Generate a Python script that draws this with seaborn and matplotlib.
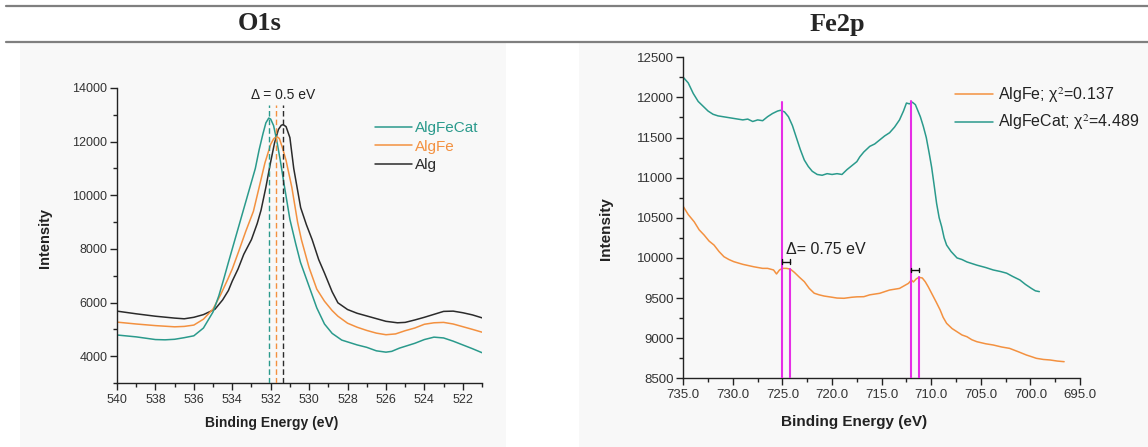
import numpy as np
import pandas as pd
import matplotlib
matplotlib.use("Agg")
import matplotlib.pyplot as plt
from matplotlib.ticker import MultipleLocator, FormatStrFormatter
from matplotlib.patches import Rectangle
from matplotlib.lines import Line2D
import seaborn as sns

# ---------------- data: O1s ----------------
o1s_cat_x = [540, 539, 538, 537.5, 537, 536.5, 536, 535.5, 535, 534.7, 534.45, 534.2, 534.0, 533.7, 533.4,
             533.1, 532.8, 532.6, 532.4, 532.25, 532.1, 532.0, 531.85, 531.7, 531.5, 531.3, 531.0, 530.7,
             530.45, 530.0, 529.6, 529.2, 528.8, 528.3, 527.5, 527, 526.5, 526, 525.7, 525.3, 524.5, 524,
             523.5, 523, 522.5, 522, 521.5, 521]
o1s_cat_y = [4790, 4720, 4620, 4610, 4630, 4690, 4760, 5050, 5650, 6250, 6860, 7500, 8000, 8750, 9500,
             10250, 11000, 11700, 12300, 12700, 12880, 12840, 12600, 12100, 11300, 10400, 9100, 8200,
             7500, 6600, 5800, 5200, 4850, 4600, 4420, 4330, 4200, 4150, 4180, 4300, 4480, 4620,
             4710, 4680, 4560, 4420, 4280, 4130]

o1s_fe_x = [540, 539, 538, 537, 536.5, 536, 535.5, 535, 534.6, 534.24, 534, 533.67, 533.3, 532.9, 532.6,
            532.3, 532.0, 531.85, 531.7, 531.55, 531.4, 531.2, 530.9, 530.6, 530.4, 530.0, 529.6, 529.2,
            528.8, 528.5, 528.0, 527.5, 527, 526.5, 526, 525.5, 525, 524.5, 524, 523.5, 523, 522.5, 522,
            521.5, 521]
o1s_fe_y = [5270, 5200, 5140, 5095, 5110, 5160, 5380, 5760, 6300, 6858, 7250, 7900, 8650, 9400, 10300,
            11205, 11900, 12100, 12200, 12120, 11800, 11300, 10300, 9000, 8342, 7300, 6500, 6050,
            5700, 5490, 5230, 5080, 4960, 4860, 4800, 4830, 4950, 5050, 5190, 5245, 5260, 5200, 5100,
            5000, 4895]

o1s_alg_x = [540, 539, 538, 537, 536.5, 536, 535.5, 534.9, 534.5, 534.2, 534.0, 533.7, 533.4, 533.0,
             532.7, 532.5, 532.25, 532.0, 531.8, 531.6, 531.45, 531.35, 531.2, 531.0, 530.8, 530.44,
             530.14, 529.84, 529.5, 529.2, 528.8, 528.5, 528.0, 527.5, 527, 526.5, 526, 525.4, 525,
             524.5, 524, 523.5, 523, 522.5, 522, 521.5, 521]
o1s_alg_y = [5680, 5580, 5490, 5420, 5394, 5450, 5550, 5750, 6100, 6450, 6800, 7250, 7800, 8350,
             8950, 9450, 10300, 11250, 11950, 12450, 12610, 12633, 12560, 12150, 11000, 9540,
             8900, 8342, 7600, 7100, 6400, 5990, 5740, 5600, 5500, 5400, 5300, 5245, 5260,
             5350, 5450, 5560, 5670, 5680, 5620, 5540, 5430]

o1s_peaks = [532.1, 531.7, 531.35]

# ---------------- data: Fe2p ----------------
fe_cat_x = [735.0, 734.5, 734.0, 733.5, 733.0, 732.5, 732.0, 731.5, 731.0, 730.5, 730.0, 729.5, 729.0,
            728.5, 728.0, 727.5, 727.0, 726.5, 726.0, 725.5, 725.2, 724.8, 724.4, 724.0, 723.6, 723.2,
            722.8, 722.4, 722.0, 721.5, 721.0, 720.5, 720.0, 719.5, 719.0, 718.5, 718.0, 717.5, 717.2,
            716.8, 716.2, 715.7, 715.2, 714.7, 714.2, 713.7, 713.2, 712.8, 712.5, 712.2, 711.9, 711.6,
            711.1, 710.8, 710.5, 710.2, 709.96, 709.7, 709.46, 709.2, 708.95, 708.7, 708.45, 708.0,
            707.4, 706.9, 706.4, 705.9, 705.4, 704.5, 703.75, 703.0, 702.4, 701.8, 701.06, 700.5,
            699.9, 699.5, 699.1]
fe_cat_y = [12250, 12180, 12050, 11950, 11890, 11830, 11790, 11770, 11760, 11750, 11740, 11730, 11720,
            11730, 11700, 11720, 11710, 11760, 11800, 11830, 11840, 11820, 11760, 11650, 11500, 11350,
            11220, 11140, 11080, 11040, 11030, 11050, 11040, 11050, 11040, 11100, 11150, 11200, 11260,
            11320, 11390, 11420, 11470, 11520, 11560, 11630, 11720, 11830, 11930, 11920, 11940, 11910,
            11760, 11640, 11500, 11300, 11130, 10900, 10680, 10500, 10390, 10250, 10160, 10080,
            10000, 9980, 9950, 9930, 9910, 9880, 9850, 9830, 9810, 9770, 9725, 9670,
            9620, 9590, 9580]

fe_fe_x = [735.0, 734.5, 733.9, 733.4, 732.9, 732.4, 731.9, 731.4, 730.9, 730.4, 729.9, 729.0, 727.9,
           727.0, 726.5, 725.9, 725.6, 725.3, 725.0, 724.6, 724.2, 723.8, 723.3, 722.8, 722.3, 721.8,
           721.3, 720.8, 720.0, 719.5, 718.8, 718.0, 717.5, 716.8, 716.2, 715.2, 714.2, 713.2, 712.3,
           712.0, 711.8, 711.5, 711.24, 710.9, 710.6, 710.3, 709.96, 709.5, 709.1, 708.8, 708.45,
           707.9, 707.4, 706.9, 706.4, 705.9, 705.4, 704.5, 703.75, 702.9, 702.1, 701.2, 700.4,
           699.9, 699.4, 698.7, 698.0, 697.3, 696.6]
fe_fe_y = [10640, 10540, 10450, 10350, 10285, 10210, 10160, 10080, 10015, 9980, 9953, 9920, 9890,
           9870, 9870, 9850, 9800, 9850, 9870, 9870, 9860, 9820, 9760, 9704, 9620, 9560,
           9540, 9525, 9510, 9500, 9497, 9510, 9515, 9517, 9540, 9559, 9600, 9620, 9683,
           9725, 9700, 9740, 9758, 9750, 9704, 9640, 9559, 9450, 9351, 9260, 9185,
           9120, 9080, 9040, 9018, 8980, 8956, 8930, 8915, 8890, 8873, 8830, 8790,
           8770, 8749, 8735, 8728, 8715, 8707]

fe_lines_hi = [725.0, 712.0]
fe_lines_lo = [724.25, 711.25]

TEAL = "#2a9a8c"
ORANGE = "#f39140"
BLACK = "#2b2b2b"
MAGENTA = "#e62ee6"

sns.set_style("ticks")
plt.rcParams["font.family"] = ["Liberation Sans", "DejaVu Sans"]
plt.rcParams["mathtext.fontset"] = "stix"
plt.rcParams["lines.solid_joinstyle"] = "round"

W, H = 1148, 447
fig = plt.figure(figsize=(W / 100, H / 100), dpi=100)
fig.patch.set_facecolor("white")

def fx(px):
    return px / W

def fy(py):
    return 1 - py / H

# panel backgrounds
fig.add_artist(Rectangle((fx(20), 0), fx(486), fy(42), transform=fig.transFigure,
                         facecolor="#f8f8f8", edgecolor="none", zorder=0))
fig.add_artist(Rectangle((fx(579), 0), fx(569), fy(42), transform=fig.transFigure,
                         facecolor="#f8f8f8", edgecolor="none", zorder=0))
# table rules
for yy in (6, 41.5):
    fig.add_artist(Line2D([fx(6), 1], [fy(yy), fy(yy)], transform=fig.transFigure,
                          color="#7f7f7f", lw=1.6, zorder=1))
fig.text(fx(260), fy(24), "O1s", ha="center", va="center", fontsize=19, fontweight="bold",
         family=["Liberation Serif", "DejaVu Serif"])
fig.text(fx(837), fy(24), "Fe2p", ha="center", va="center", fontsize=19, fontweight="bold",
         family=["Liberation Serif", "DejaVu Serif"])


def style_axes(ax, tick_fs_x, tick_fs_y):
    ax.set_facecolor("none")
    sns.despine(ax=ax, top=True, right=True)
    for s in ("left", "bottom"):
        ax.spines[s].set_linewidth(1.0)
        ax.spines[s].set_color("#222222")
    ax.tick_params(which="major", direction="out", length=5, width=1, colors="#222222")
    ax.tick_params(which="minor", direction="out", length=3, width=1, colors="#222222")
    ax.tick_params(axis="x", labelsize=tick_fs_x, labelcolor="#333333", pad=3)
    ax.tick_params(axis="y", labelsize=tick_fs_y, labelcolor="#333333", pad=2)


# ---------------- O1s ----------------
ax1 = fig.add_axes([fx(117), fy(383), fx(365), (383 - 88) / H])
sns.lineplot(x=o1s_alg_x, y=o1s_alg_y, ax=ax1, color=BLACK, lw=1.1, sort=False, estimator=None, label="Alg")
sns.lineplot(x=o1s_fe_x, y=o1s_fe_y, ax=ax1, color=ORANGE, lw=1.1, sort=False, estimator=None, label="AlgFe")
sns.lineplot(x=o1s_cat_x, y=o1s_cat_y, ax=ax1, color=TEAL, lw=1.1, sort=False, estimator=None, label="AlgFeCat")
ax1.set_xlim(540, 521)
ax1.set_ylim(3000, 14000)
ax1.xaxis.set_major_locator(MultipleLocator(2))
ax1.xaxis.set_minor_locator(MultipleLocator(1))
ax1.yaxis.set_major_locator(MultipleLocator(2000))
ax1.yaxis.set_minor_locator(MultipleLocator(1000))
style_axes(ax1, 9, 9)
for xp, c in zip(o1s_peaks, [TEAL, ORANGE, BLACK]):
    ax1.plot([xp, xp], [3000, 13380], color=c, lw=1.0, ls=(0, (4, 2.2)), zorder=3)
ax1.text(531.35, 13750, "Δ = 0.5 eV", ha="center", va="center", fontsize=10, color="#222222")
ax1.set_xlabel("Binding Energy (eV)", fontsize=10, fontweight="bold", color="#222222")
ax1.set_ylabel("Intensity", fontsize=10.5, fontweight="bold", color="#222222")
ax1.xaxis.label.set_va("center")
ax1.yaxis.label.set_va("center")
ax1.xaxis.set_label_coords(0.425, -0.136)
ax1.yaxis.set_label_coords(-0.197, 0.49)
h, l = ax1.get_legend_handles_labels()
order = [2, 1, 0]
leg1 = ax1.legend([h[i] for i in order], [l[i] for i in order], loc="upper left",
                  bbox_to_anchor=(fx(375), fy(121)), bbox_transform=fig.transFigure,
                  frameon=False, fontsize=11, handlelength=2.4, handletextpad=0.2,
                  labelspacing=0.3, borderpad=0, borderaxespad=0, labelcolor="linecolor")

# ---------------- Fe2p ----------------
ax2 = fig.add_axes([fx(683.3), fy(378.3), fx(396.7), (378.3 - 57.3) / H])
sns.lineplot(x=fe_fe_x, y=fe_fe_y, ax=ax2, color=ORANGE, lw=1.1, sort=False, estimator=None,
             label="AlgFe; χ$^{2}$=0.137")
sns.lineplot(x=fe_cat_x, y=fe_cat_y, ax=ax2, color=TEAL, lw=1.1, sort=False, estimator=None,
             label="AlgFeCat; χ$^{2}$=4.489")
ax2.set_xlim(735, 695)
ax2.set_ylim(8500, 12500)
ax2.xaxis.set_major_locator(MultipleLocator(5))
ax2.xaxis.set_minor_locator(MultipleLocator(2.5))
ax2.xaxis.set_major_formatter(FormatStrFormatter("%.1f"))
ax2.yaxis.set_major_locator(MultipleLocator(500))
ax2.yaxis.set_minor_locator(MultipleLocator(250))
style_axes(ax2, 9.5, 9.5)
for xp, top in zip(fe_lines_hi, [11940, 11950]):
    ax2.plot([xp, xp], [8500, top], color=MAGENTA, lw=1.5, zorder=4)
for xp, top in zip(fe_lines_lo, [9860, 9760]):
    ax2.plot([xp, xp], [8500, top], color=MAGENTA, lw=1.5, zorder=4)
for x0, x1, yb in zip(fe_lines_hi, fe_lines_lo, [9953, 9850]):
    ax2.plot([x0, x1], [yb, yb], color="#111111", lw=1.0, zorder=5)
    ax2.plot([x0, x0], [yb - 30, yb + 30], color="#111111", lw=1.0, zorder=5)
    ax2.plot([x1, x1], [yb - 30, yb + 30], color="#111111", lw=1.0, zorder=5)
ax2.text(724.68, 10100, "Δ= 0.75 eV", ha="left", va="center", fontsize=11.5, color="#222222")
ax2.set_xlabel("Binding Energy (eV)", fontsize=11, fontweight="bold", color="#222222")
ax2.set_ylabel("Intensity", fontsize=11, fontweight="bold", color="#222222")
ax2.xaxis.label.set_va("center")
ax2.yaxis.label.set_va("center")
ax2.xaxis.set_label_coords(0.4316, -0.135)
ax2.yaxis.set_label_coords(-0.196, 0.465)
leg2 = ax2.legend(loc="upper left", bbox_to_anchor=(fx(955), fy(85)), bbox_transform=fig.transFigure,
                  frameon=False, fontsize=11.5, handlelength=2.4, handletextpad=0.3,
                  labelspacing=0.5, borderpad=0, borderaxespad=0)
for t in leg2.get_texts():
    t.set_color("#222222")

fig.savefig("out.png", dpi=100)
